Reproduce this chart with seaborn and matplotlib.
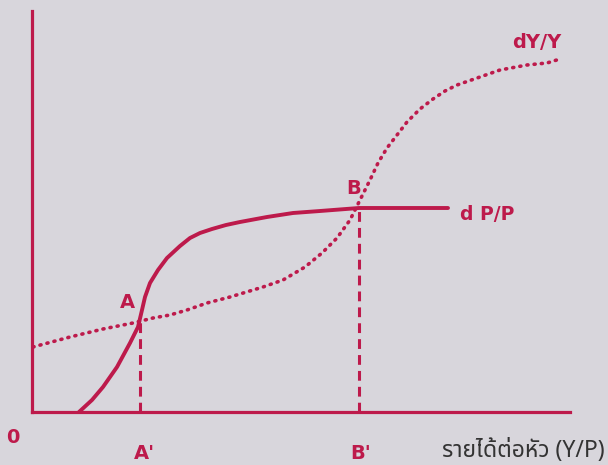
import matplotlib
matplotlib.use("Agg")
import matplotlib.pyplot as plt
import seaborn as sns
import pandas as pd

# curve readings (x = distance from origin, y = height above axis)
dp_x = [47, 60, 71, 85, 98, 106, 110, 113, 118, 126, 135, 148, 158, 168, 180,
        194, 208, 235, 261, 288, 327, 368, 416]
dp_y = [0, 12, 25, 45, 69, 85, 102, 115, 129, 142, 154, 166, 174, 179, 183,
        187, 190, 195, 199, 201, 204, 204, 204]

dy_x = [1, 38, 71, 101, 121, 138, 155, 175, 198, 231, 251, 273, 290, 305, 318,
        328, 338, 346, 355, 365, 375, 388, 401, 413, 425, 448, 468, 495, 515, 528]
dy_y = [65, 75, 83, 89, 94, 97, 102, 109, 115, 125, 132, 145, 159, 174, 192,
        212, 232, 249, 264, 277, 290, 303, 313, 321, 327, 335, 342, 347, 349, 353]

point_a = (108, 91)
point_b = (327, 205)

red = "#bd1a4b"
bg = "#d8d6dc"

sns.set_style("white")
plt.rcParams['font.family'] = ['Noto Sans Thai', 'Noto Serif Thai', 'Loma', 'Garuda', 'DejaVu Sans']

fig = plt.figure(figsize=(6.08, 4.65), dpi=100, facecolor=bg)
ax = fig.add_axes([32 / 608, 53 / 465, 538 / 608, 401 / 465])
ax.set_facecolor(bg)
ax.set_xlim(0, 538)
ax.set_ylim(0, 401)

dp = pd.DataFrame({"x": dp_x, "y": dp_y})
dy = pd.DataFrame({"x": dy_x, "y": dy_y})

sns.lineplot(data=dp, x="x", y="y", ax=ax, color=red, lw=2.8, sort=False,
             solid_joinstyle="round", solid_capstyle="round")
sns.lineplot(data=dy, x="x", y="y", ax=ax, color=red, lw=2.6, sort=False,
             linestyle=(0, (0.3, 1.7)), dash_capstyle="round")

# dashed drops from A and B
for px, py in [point_a, point_b]:
    ax.plot([px, px], [0, py], color=red, lw=2.2, linestyle=(0, (3.2, 2.0)))

for s in ["top", "right"]:
    ax.spines[s].set_visible(False)
for s in ["left", "bottom"]:
    ax.spines[s].set_color(red)
    ax.spines[s].set_linewidth(2.3)
ax.set_xticks([])
ax.set_yticks([])
ax.set_xlabel("")
ax.set_ylabel("")

lab = dict(color=red, fontsize=14, fontweight="bold", family="DejaVu Sans",
           ha="center", va="center", clip_on=False)
ax.text(-19, -25, "0", **lab)
ax.text(112, -41, "A'", **lab)
ax.text(329, -41, "B'", **lab)
ax.text(95, 110, "A", **lab)
ax.text(322, 224, "B", **lab)
ax.text(428, 198, "d P/P", **{**lab, "ha": "left", "fontsize": 13.5})
ax.text(480, 370, "dY/Y", **{**lab, "ha": "left"})
ax.text(573, -39, "รายได้ต่อหัว (Y/P)", color="#333333", fontsize=16.5,
        ha="right", va="center", clip_on=False)

fig.savefig("out.png", dpi=100, facecolor=bg)
